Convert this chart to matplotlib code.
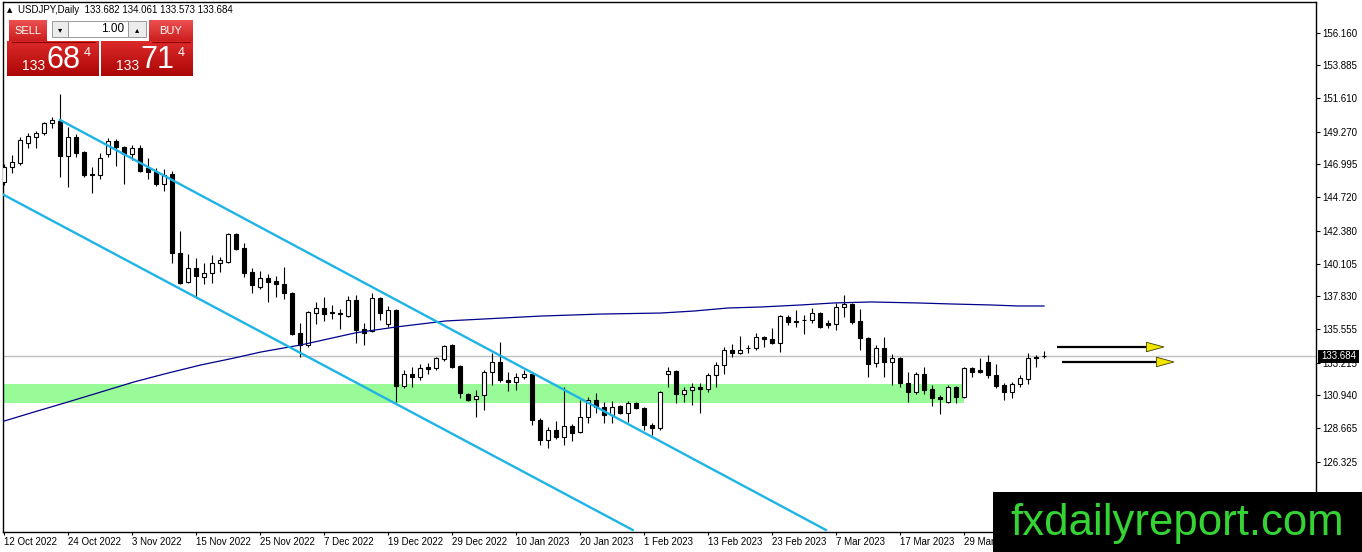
import numpy as np
import matplotlib
matplotlib.use('Agg')
import matplotlib.pyplot as plt
from matplotlib.patches import Rectangle, Polygon
from matplotlib.colors import to_rgb

plt.rcParams['font.family'] = ['Liberation Sans', 'DejaVu Sans']

# USDJPY daily candles, 12 Oct 2022 .. 12 Apr 2023
opens = [145.78, 146.82, 147.10, 148.49, 148.90, 149.18, 149.88, 150.01, 147.58, 148.90,
         147.86, 146.33, 146.26, 147.72, 148.63, 148.21, 147.72, 148.14, 146.75, 146.47,
         145.64, 146.33, 140.84, 138.83, 139.80, 139.17, 139.45, 140.15, 140.21, 142.16,
         141.19, 139.52, 138.48, 139.10, 138.90, 138.69, 138.06, 135.28, 134.45, 136.67,
         137.02, 136.72, 136.64, 136.46, 137.58, 135.56, 135.42, 137.71, 135.91, 136.88,
         131.60, 132.43, 132.22, 132.92, 132.85, 133.48, 134.45, 132.99, 131.04, 130.70,
         130.97, 132.57, 133.27, 132.01, 131.88, 132.22, 132.43, 129.23, 127.84, 128.54,
         128.05, 128.82, 128.40, 129.44, 130.63, 130.14, 129.58, 130.21, 129.72, 130.42,
         130.07, 128.89, 128.68, 132.43, 132.64, 131.04, 131.32, 131.53, 131.39, 132.36,
         133.06, 134.10, 133.89, 134.24, 134.24, 135.00, 134.86, 134.59, 136.39, 136.14,
         136.17, 136.19, 136.67, 135.98, 135.91, 137.09, 137.30, 136.11, 134.94, 133.20,
         134.24, 133.27, 133.54, 131.81, 131.18, 132.43, 131.39, 130.83, 130.49, 131.53,
         130.83, 132.85, 132.71, 133.27, 132.36, 131.67, 131.18, 131.74, 132.08, 133.61,
         133.682]
highs = [147.03, 147.65, 148.90, 149.18, 149.32, 149.95, 150.29, 151.89, 149.60, 149.11,
         147.93, 146.82, 147.79, 148.84, 148.77, 148.28, 148.35, 148.35, 147.44, 146.75,
         146.68, 146.54, 142.37, 140.77, 140.49, 140.15, 140.70, 140.56, 142.23, 142.23,
         141.54, 139.80, 139.59, 139.38, 139.24, 139.87, 138.13, 135.98, 136.81, 137.44,
         137.78, 137.23, 136.95, 137.85, 137.92, 135.98, 138.06, 137.78, 137.16, 136.95,
         132.71, 132.92, 133.13, 133.20, 133.61, 134.45, 134.52, 133.06, 131.11, 131.32,
         132.71, 133.89, 134.66, 132.57, 132.50, 132.71, 132.50, 129.37, 128.75, 129.16,
         131.53, 128.96, 130.63, 130.83, 131.11, 130.49, 130.56, 130.28, 130.56, 130.49,
         130.14, 129.03, 131.25, 132.92, 132.71, 131.53, 131.81, 131.81, 132.50, 133.27,
         134.31, 134.52, 135.07, 134.45, 135.28, 135.04, 135.63, 136.53, 136.53, 136.88,
         136.53, 137.02, 136.74, 136.19, 137.37, 137.92, 137.37, 136.95, 135.00, 134.45,
         135.00, 133.82, 133.61, 132.57, 132.57, 132.92, 131.67, 130.97, 131.67, 131.60,
         132.92, 132.92, 133.54, 133.75, 133.13, 131.81, 131.88, 132.36, 133.89, 133.75,
         134.061]
lows = [145.57, 146.40, 146.96, 148.14, 148.14, 149.04, 149.53, 146.12, 145.43, 147.51,
        146.12, 145.01, 145.98, 147.51, 146.89, 145.64, 147.31, 146.47, 145.98, 145.50,
        145.15, 140.15, 138.69, 138.76, 137.71, 138.69, 138.76, 139.52, 140.15, 141.05,
        139.17, 138.06, 138.34, 137.44, 137.78, 137.65, 135.14, 133.61, 134.31, 135.91,
        136.11, 136.26, 135.56, 136.39, 134.59, 134.45, 135.35, 136.19, 135.70, 130.49,
        131.46, 131.53, 132.01, 132.43, 132.71, 133.34, 132.85, 130.76, 130.56, 129.44,
        129.93, 131.67, 131.88, 131.25, 131.32, 132.08, 128.89, 127.50, 127.29, 127.91,
        127.50, 127.78, 128.33, 129.03, 129.72, 129.03, 129.03, 129.65, 129.09, 130.00,
        128.54, 128.19, 128.54, 131.53, 130.42, 130.49, 130.28, 129.72, 131.18, 131.53,
        132.43, 133.61, 133.82, 133.89, 134.10, 134.31, 134.52, 133.96, 135.84, 135.70,
        135.21, 135.98, 135.63, 135.63, 135.49, 136.39, 135.91, 134.10, 132.22, 132.92,
        132.22, 131.67, 131.53, 130.49, 131.04, 131.04, 130.21, 129.65, 130.42, 130.42,
        130.76, 132.22, 132.50, 132.15, 131.46, 130.63, 130.76, 131.53, 131.74, 132.92,
        133.573]
closes = [146.82, 147.17, 148.70, 148.97, 149.18, 149.88, 150.09, 147.58, 148.90, 147.79,
          146.26, 146.26, 147.44, 148.63, 148.21, 147.72, 148.14, 146.54, 146.47, 145.64,
          146.26, 140.84, 138.76, 139.80, 139.24, 139.45, 140.15, 140.35, 142.16, 141.12,
          139.45, 138.62, 139.10, 138.83, 138.69, 138.06, 135.21, 134.45, 136.74, 137.02,
          136.60, 136.64, 136.57, 137.58, 135.49, 135.28, 137.71, 136.67, 136.88, 131.60,
          132.43, 132.22, 132.85, 132.78, 133.54, 134.38, 132.92, 131.11, 130.63, 130.90,
          132.57, 133.27, 132.01, 131.88, 132.22, 132.43, 129.23, 127.84, 128.54, 128.05,
          128.82, 128.33, 129.44, 130.63, 130.14, 129.58, 130.14, 129.72, 130.42, 130.07,
          128.89, 128.68, 131.18, 132.64, 131.04, 131.32, 131.53, 131.39, 132.36, 133.06,
          134.10, 133.89, 134.10, 134.26, 135.00, 134.86, 134.59, 136.46, 136.05, 136.08,
          136.19, 136.67, 135.70, 135.84, 137.09, 137.30, 136.05, 134.94, 133.13, 134.24,
          133.27, 133.54, 131.81, 131.18, 132.43, 131.32, 130.76, 130.70, 131.53, 130.83,
          132.85, 132.57, 132.57, 132.36, 131.60, 131.18, 131.74, 132.15, 133.54, 133.54,
          133.684]

# the last label is cut by the watermark box in the terminal screenshot
date_labels = ['12 Oct 2022', '24 Oct 2022', '3 Nov 2022', '15 Nov 2022', '25 Nov 2022',
               '7 Dec 2022', '19 Dec 2022', '29 Dec 2022', '10 Jan 2023', '20 Jan 2023',
               '1 Feb 2023', '13 Feb 2023', '23 Feb 2023', '7 Mar 2023', '17 Mar 2023',
               '29 Mar']
price_ticks = [156.160, 153.885, 151.610, 149.270, 146.995, 144.720, 142.380,
               140.105, 137.830, 135.555, 133.215, 130.940, 128.665, 126.325]
last_price = 133.684
header = 'USDJPY,Daily  133.682 134.061 133.573 133.684'

# moving average (dark blue), sampled along the curve
ma_bars = [0, 3.75, 8, 12.1, 16.25, 20.5, 24.6, 28.75, 32.1, 37.1, 44, 49, 55.25,
           67.1, 74.6, 82.1, 86.25, 90.5, 94.6, 99.6, 103.75, 108.4, 114.25, 118.4,
           123.4, 126.75, 130]
ma_vals = [129.16, 129.79, 130.49, 131.18, 131.88, 132.50, 133.06, 133.54, 133.96,
           134.45, 135.30, 135.70, 136.12, 136.46, 136.60, 136.67, 136.81, 137.02,
           137.09, 137.23, 137.37, 137.44, 137.37, 137.30, 137.23, 137.16, 137.16]

# descending channel
upper_bars, upper_vals = [7, 102.75], [150.09, 121.59]
lower_bars, lower_vals = [-1, 78.6], [145.17, 121.59]

# support zone
zone_low, zone_high, zone_end = 130.41, 131.74, 120

# projection arrows
arrow_prices = [134.31, 133.27]
arrow_from = [131.6, 132.25]
arrow_to = [145.0, 146.25]

W, H = 1362, 552
fig = plt.figure(figsize=(W / 100, H / 100), dpi=100)
fig.patch.set_facecolor('white')

ax = fig.add_axes([3 / W, 20 / H, 1313 / W, 530 / H])
ax.set_xlim(-0.125, 164)
ax.set_ylim(121.452, 158.287)

o = np.array(opens); h = np.array(highs); l = np.array(lows); c = np.array(closes)
x = np.arange(len(o))
bull = c >= o

ax.add_patch(Rectangle((-2, zone_low), zone_end + 2, zone_high - zone_low,
                       facecolor='#98fb98', edgecolor='none', zorder=1))
ax.axhline(last_price, color='#c0c0c0', lw=1, zorder=2)

ax.vlines(x, l, h, color='black', lw=0.8, zorder=3)
body_bot = np.minimum(o, c)
body_h = np.maximum(np.abs(c - o), 0.015)
ax.bar(x, body_h, bottom=body_bot, width=0.62,
       color=np.where(bull, 'white', 'black'), edgecolor='black', linewidth=0.8, zorder=4)

ax.plot(ma_bars, ma_vals, color='#00008b', lw=0.9, zorder=5)
ax.plot(upper_bars, upper_vals, color='#1eb4e6', lw=1.7, zorder=6)
ax.plot(lower_bars, lower_vals, color='#1eb4e6', lw=1.7, zorder=6)

head_len, head_half = 2.2, 0.33
for p, a, b in zip(arrow_prices, arrow_from, arrow_to):
    ax.plot([a, b - head_len], [p, p], color='black', lw=1.6, zorder=7, solid_capstyle='butt')
    ax.add_patch(Polygon([[b - head_len, p + head_half], [b, p], [b - head_len, p - head_half]],
                         closed=True, facecolor='#f2e600', edgecolor='#404000', lw=0.6, zorder=8))

# axes
for s in ax.spines.values():
    s.set_color('black')
    s.set_linewidth(1)
ax.yaxis.tick_right()
ax.set_yticks(price_ticks)
ax.set_yticklabels(['{:.3f}'.format(v) for v in price_ticks])
ax.tick_params(axis='y', direction='out', length=3, width=0.8, pad=1.5, labelsize=7)
ax.set_xticks(np.arange(len(date_labels)) * 8)
ax.set_xticklabels(date_labels)
ax.tick_params(axis='x', direction='out', length=2.5, width=0.8, pad=1, labelsize=7)
plt.setp(ax.get_xticklabels(), ha='left')

# overlay in pixel coordinates for terminal widgets
ui = fig.add_axes([0, 0, 1, 1], zorder=10)
ui.set_xlim(0, W)
ui.set_ylim(H, 0)
ui.axis('off')
ui.patch.set_alpha(0)


def grad_box(x0, y0, x1, y1, top, bot):
    t = np.linspace(0, 1, 32)[:, None, None]
    img = (1 - t) * np.array(to_rgb(top)) + t * np.array(to_rgb(bot))
    ui.imshow(img, extent=(x0, x1, y1, y0), aspect='auto', interpolation='bilinear', zorder=11)


grad_box(9, 20, 47, 42, '#ec5050', '#cc1c1c')
grad_box(149, 20, 193, 42, '#ec5050', '#cc1c1c')
grad_box(7, 41, 99, 76, '#dc2a2a', '#ac0606')
grad_box(101, 41, 193, 76, '#dc2a2a', '#ac0606')
ui.plot([12, 95], [41.5, 41.5], color='#8a0000', lw=0.8, zorder=12)
ui.plot([152, 190], [41.5, 41.5], color='#8a0000', lw=0.8, zorder=12)

ui.add_patch(Rectangle((52, 21), 16, 16, facecolor='#ececec', edgecolor='#9a9a9a', lw=0.7, zorder=12))
ui.add_patch(Rectangle((68, 21), 60, 16, facecolor='white', edgecolor='#9a9a9a', lw=0.7, zorder=12))
ui.add_patch(Rectangle((128, 21), 18, 16, facecolor='#ececec', edgecolor='#9a9a9a', lw=0.7, zorder=12))
ui.text(60, 29.5, '\u25be', fontsize=6, ha='center', va='center', zorder=13, family=['DejaVu Sans'])
ui.text(137, 29.5, '\u25b4', fontsize=6, ha='center', va='center', zorder=13, family=['DejaVu Sans'])
ui.text(124, 29.5, '1.00', fontsize=8.5, ha='right', va='center', zorder=13)
ui.text(28, 30.5, 'SELL', fontsize=8, color='white', ha='center', va='center', zorder=13)
ui.text(171, 30.5, 'BUY', fontsize=8, color='white', ha='center', va='center', zorder=13)

for x0, big in [(22, '68'), (116, '71')]:
    ui.text(x0, 70, '133', fontsize=10, color='white', va='baseline', zorder=13)
    ui.text(x0 + 24, 68.5, big, fontsize=22, color='white', va='baseline', zorder=13)
    ui.text(x0 + 62, 47, '4', fontsize=9, color='white', va='top', zorder=13)

ui.text(7, 10, '\u25b2', fontsize=5, va='center', zorder=13, family=['DejaVu Sans'])
ui.text(18, 10, header, fontsize=7, va='center', zorder=13)

ui.add_patch(Rectangle((1318, 349.5), 41, 13, facecolor='black', zorder=12))
ui.text(1338.5, 356.3, '{:.3f}'.format(last_price), fontsize=7, color='white',
        ha='center', va='center', zorder=13)

ui.add_patch(Rectangle((993, 492), W - 993, H - 492, facecolor='black', zorder=12))
ui.text(1010, 535, 'fxdailyreport.com', fontsize=31.5, color='#35d435',
        va='baseline', ha='left', zorder=13)

fig.savefig('out.png', dpi=100)
